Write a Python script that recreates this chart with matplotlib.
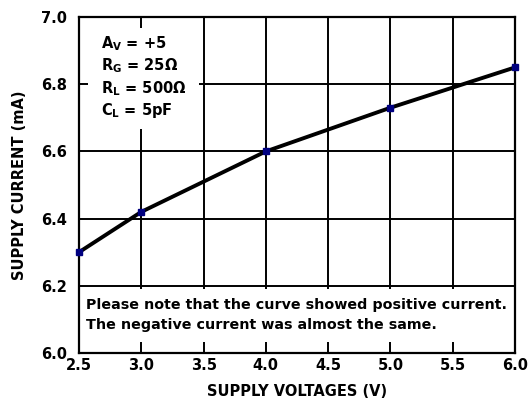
import matplotlib
matplotlib.use("Agg")
import matplotlib.pyplot as plt
from matplotlib.patches import Rectangle

plt.rcParams['font.family'] = ['DejaVu Sans']
plt.rcParams['font.weight'] = 'bold'
plt.rcParams['mathtext.fontset'] = 'custom'
plt.rcParams['mathtext.rm'] = 'DejaVu Sans:bold'
plt.rcParams['mathtext.it'] = 'DejaVu Sans:bold'
plt.rcParams['mathtext.bf'] = 'DejaVu Sans:bold'

# Data
supply_voltage = [2.5, 3.0, 4.0, 5.0, 6.0]
supply_current = [6.30, 6.42, 6.60, 6.73, 6.85]
x_ticks = [2.5, 3.0, 3.5, 4.0, 4.5, 5.0, 5.5, 6.0]
y_ticks = [6.0, 6.2, 6.4, 6.6, 6.8, 7.0]
cond_lines = [r'$\mathrm{A_V}$ = +5', r'$\mathrm{R_G}$ = 25Ω',
              r'$\mathrm{R_L}$ = 500Ω', r'$\mathrm{C_L}$ = 5pF']
note_text = "Please note that the curve showed positive current.\nThe negative current was almost the same."

FS = 10.5

fig = plt.figure(figsize=(5.30, 4.05), dpi=100)
ax = fig.add_axes([79/530, 1 - 353/405, (515-79)/530, (353-17)/405])
ax.set_xlim(2.5, 6.0)
ax.set_ylim(6.0, 7.0)
ax.set_xticks(x_ticks)
ax.set_yticks(y_ticks)
ax.set_xticklabels([f"{v:.1f}" for v in x_ticks], fontsize=FS, fontweight='bold')
ax.set_yticklabels([f"{v:.1f}" for v in y_ticks], fontsize=FS, fontweight='bold')
ax.tick_params(axis='y', length=0, pad=8.5)
ax.tick_params(axis='x', length=0, pad=3.5)
ax.grid(True, color='black', linewidth=1.4)
ax.set_axisbelow(True)
for s in ax.spines.values():
    s.set_linewidth(1.6)

# white boxes
ax.add_patch(Rectangle((2.57, 6.667), 0.89, 0.30, facecolor='white', edgecolor='none', zorder=1.5))
ax.add_patch(Rectangle((2.5, 6.033), 3.5, 0.157, facecolor='white', edgecolor='none', zorder=1.5))

ax.plot(supply_voltage, supply_current, color='black', linewidth=2.8, zorder=3)
ax.plot(supply_voltage, supply_current, linestyle='none', marker='s', markersize=4,
        color='#000080', zorder=4, clip_on=False)

y0 = 6.922
for i, t in enumerate(cond_lines):
    ax.text(2.675, y0 - i*0.067, t, fontsize=FS, fontweight='bold', va='center', ha='left', zorder=5)

ax.text(2.555, 6.113, note_text, fontsize=10.3, fontweight='bold', va='center', ha='left',
        linespacing=1.5, zorder=5)

ax.set_xlabel('SUPPLY VOLTAGES (V)', fontsize=FS, fontweight='bold', labelpad=8)
ax.set_ylabel('SUPPLY CURRENT (mA)', fontsize=FS, fontweight='bold', labelpad=10)

fig.savefig('out.png', dpi=100)
